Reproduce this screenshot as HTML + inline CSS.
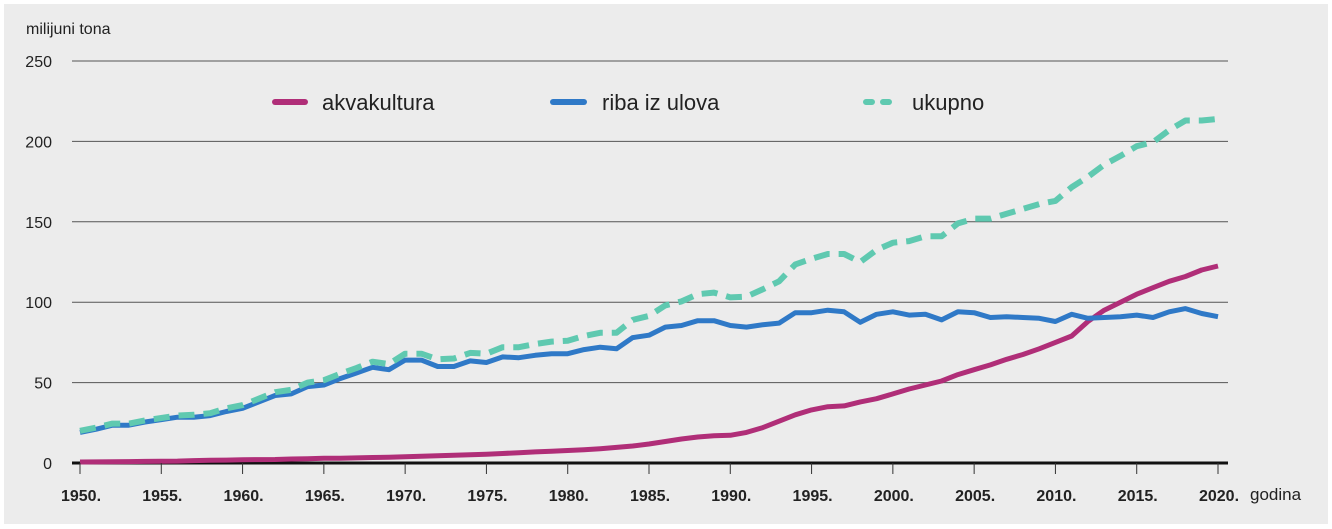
<!DOCTYPE html>
<html><head><meta charset="utf-8"><style>
html,body{margin:0;padding:0;background:#fff;}
svg{display:block;font-family:"Liberation Sans",sans-serif;}
</style></head><body>
<svg id="chart" width="1332" height="529" viewBox="0 0 1332 529">
<rect x="4" y="4" width="1324" height="520" fill="#ececec"/>
<text x="26" y="34" font-size="16" fill="#222">milijuni tona</text>
<g id="grid"></g><g id="series"></g><g id="xaxis"></g>
<g>
<g><line x1="275" y1="102" x2="305" y2="102" stroke="#b02e78" stroke-width="6" stroke-linecap="round"/><text x="322" y="110" font-size="22" fill="#222">akvakultura</text></g>
<g><line x1="553" y1="102" x2="584" y2="102" stroke="#2f79c7" stroke-width="6" stroke-linecap="round"/><text x="602" y="110" font-size="22" fill="#222">riba iz ulova</text></g>
<g><line x1="866" y1="102" x2="900" y2="102" stroke="#5fc9b0" stroke-width="6" stroke-linecap="round" stroke-dasharray="6,11"/><text x="912" y="110" font-size="22" fill="#222">ukupno</text></g>
</g>
<text x="1250" y="500" font-size="17" fill="#222">godina</text>
</svg>
<script>
const startYear = 1950;
const aquaculture = [0.6,0.7,0.8,0.9,1.0,1.1,1.2,1.5,1.7,1.8,
2.0,2.1,2.2,2.5,2.7,2.9,3.0,3.2,3.4,3.6,
3.9,4.2,4.5,4.8,5.1,5.5,5.9,6.4,6.9,7.3,
7.8,8.3,8.9,9.7,10.6,11.8,13.4,14.9,16.2,17.0,
17.2,19,22,26,30,33,35,35.5,38,40,
43,46,48.5,51,55,58,61,64.5,67.5,71,
75,79,88,95,100,105,109,113,116,120,122.5];
const capture = [19,21,23.5,23.5,25.5,27,28.5,28.5,29.5,32,
34,38,42,43,47.5,48.5,52.5,56,59.5,58,
64,64,60,60,63.5,62.5,66,65.5,67,68,
68,70.5,72,71,78,79.5,84.5,85.5,88.5,88.5,
85.5,84.5,86,87,93.5,93.5,95,94,87.5,92.5,
94,92,92.5,89,94,93.5,90.5,91,90.5,90,
88,92.5,90,90.5,91,92,90.5,94,96,93,91];
const total = [20,22,24.5,24.5,26.5,28,29.5,30,31,34,
36,40,44,45.5,50,51.5,55.5,59,63,61.5,
68,68,64.5,65,68.5,68,72,72,74,75.5,
76,79,81,81,89,91.5,98,100.5,105,106,
103,103.5,108,113,123.5,127,130,130,125,132.5,
137,138,141,141,149,152,152,155,158,161,
163,171.5,178,185.5,191,197,199.5,207,213,213,214];
const yTicks = [0,50,100,150,200,250];
const xTickYears = [1950,1955,1960,1965,1970,1975,1980,1985,1990,1995,2000,2005,2010,2015,2020];

const NS="http://www.w3.org/2000/svg";
const x = yr => 80 + (yr-1950)*(1218-80)/70;
const y = v => 463 - v*(463-61)/250;
function mk(tag, attrs, parent){const e=document.createElementNS(NS,tag);for(const k in attrs)e.setAttribute(k,attrs[k]);parent.appendChild(e);return e;}
const grid=document.getElementById('grid');
yTicks.forEach(t=>{
  const l=mk('line',{x1:72,x2:1228,y1:y(t),y2:y(t),stroke:t===0?'#111':'#555','stroke-width':t===0?3:1},grid);
  
  
  const tx=mk('text',{x:52,y:y(t)+6,'text-anchor':'end','font-size':16,fill:'#222'},grid);
  tx.textContent=t;
  
  
});
const xa=document.getElementById('xaxis');
xTickYears.forEach(yr=>{
  const l=mk('line',{x1:x(yr),x2:x(yr),y1:463,y2:474,stroke:'#333','stroke-width':1},xa);
  
  
  const tx=mk('text',{x:x(yr)+1,y:501,'text-anchor':'middle','font-size':16,'font-weight':'bold',fill:'#222'},xa);
  tx.textContent=yr+'.';
  
  
});
const sg=document.getElementById('series');
function pts(arr){return arr.map((v,i)=>x(startYear+i).toFixed(1)+','+y(v).toFixed(1)).join(' ');}
const pa=mk('polyline',{points:pts(aquaculture),fill:'none',stroke:'#b02e78','stroke-width':5,'stroke-linejoin':'round'},sg);


const pc=mk('polyline',{points:pts(capture),fill:'none',stroke:'#2f79c7','stroke-width':5,'stroke-linejoin':'round'},sg);


const pt=mk('polyline',{points:pts(total),fill:'none',stroke:'#5fc9b0','stroke-width':6,'stroke-linejoin':'round','stroke-dasharray':'16,9'},sg);


</script>
</body></html>
